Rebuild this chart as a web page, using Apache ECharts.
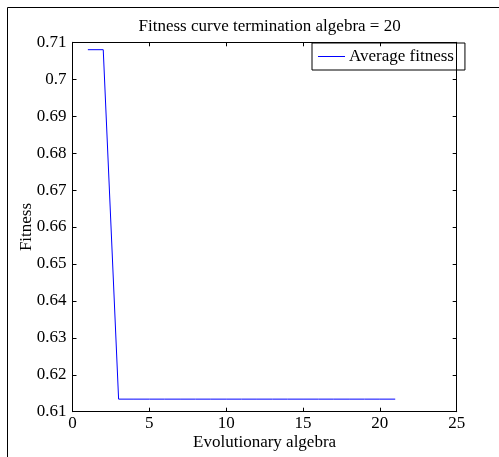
<!DOCTYPE html>
<html>
<head>
<meta charset="utf-8">
<script src="https://cdn.jsdelivr.net/npm/echarts@6/dist/echarts.min.js"></script>
<style>
  html, body { margin: 0; padding: 0; background: #fff; }
  #main { width: 499px; height: 457px; }
</style>
</head>
<body>
<div id="main"></div>
<script>
// values
var generations = [1, 2, 3, 4, 5, 6, 7, 8, 9, 10, 11, 12, 13, 14, 15, 16, 17, 18, 19, 20, 21];
var avgFitness = [0.708, 0.708, 0.6134, 0.6134, 0.6134, 0.6134, 0.6134, 0.6134, 0.6134, 0.6134,
  0.6134, 0.6134, 0.6134, 0.6134, 0.6134, 0.6134, 0.6134, 0.6134, 0.6134, 0.6134, 0.6134];
var xRange = [0, 25, 5];       // min, max, interval
var yRange = [0.61, 0.71, 0.01];

var font = "'Liberation Serif', 'Times New Roman', serif";

var chartDom = document.getElementById("main");
var myChart = echarts.init(chartDom);
var option;

var seriesData = generations.map(function (g, i) {
  return [g, avgFitness[i]];
});

function boxAxis(pos, range) {
  return {
    type: "value",
    position: pos,
    min: range[0],
    max: range[1],
    interval: range[2],
    axisLine: { show: true, onZero: false, lineStyle: { color: "#000", width: 1 } },
    axisTick: { show: true, inside: true, length: 4, lineStyle: { color: "#000" } },
    axisLabel: { show: false },
    splitLine: { show: false }
  };
}

option = {
  backgroundColor: "#fff",
  animation: false,
  title: {
    text: "Fitness curve termination algebra = 20",
    left: 264.6,
    textAlign: "center",
    top: 13,
    textStyle: { fontFamily: font, fontSize: 17, fontWeight: "normal", color: "#000" }
  },
  legend: {
    data: [{ name: "Average fitness", icon: "rect" }],
    left: 312,
    top: 43,
    orient: "vertical",
    borderColor: "#000",
    borderWidth: 1,
    padding: [5, 11, 5, 6],
    itemWidth: 27,
    itemHeight: 1,
    itemStyle: { color: "#0000ff" },
    textStyle: { fontFamily: font, fontSize: 17, color: "#000", padding: [0, 0, 0, -1] }
  },
  grid: {
    left: 72.5,
    right: 42.3,
    top: 42.3,
    bottom: 45.3,
    containLabel: false,
    outerBoundsMode: "none"
  },
  graphic: [
    {
      type: "rect",
      shape: { x: 7.5, y: 7.5, width: 700, height: 700 },
      style: { fill: null, stroke: "#000", lineWidth: 1 },
      silent: true,
      z: -1
    }
  ],
  xAxis: [
    {
      type: "value",
      min: xRange[0],
      max: xRange[1],
      interval: xRange[2],
      name: "Evolutionary algebra",
      nameLocation: "middle",
      nameGap: 22,
      nameMoveOverlap: false,
      nameTextStyle: { fontFamily: font, fontSize: 17, color: "#000" },
      axisLine: { show: true, onZero: false, lineStyle: { color: "#000", width: 1 } },
      axisTick: { show: true, inside: true, length: 4, lineStyle: { color: "#000" } },
      axisLabel: { margin: 3, fontFamily: font, fontSize: 17, color: "#000" },
      splitLine: { show: false }
    },
    boxAxis("top", xRange)
  ],
  yAxis: [
    {
      type: "value",
      min: yRange[0],
      max: yRange[1],
      interval: yRange[2],
      name: "Fitness",
      nameLocation: "middle",
      nameGap: 37,
      nameMoveOverlap: false,
      nameTextStyle: { fontFamily: font, fontSize: 17, color: "#000" },
      axisLine: { show: true, onZero: false, lineStyle: { color: "#000", width: 1 } },
      axisTick: { show: true, inside: true, length: 4, lineStyle: { color: "#000" } },
      axisLabel: {
        margin: 6,
        fontFamily: font,
        fontSize: 17,
        color: "#000",
        formatter: function (value) {
          return String(+value.toFixed(2));
        }
      },
      splitLine: { show: false }
    },
    boxAxis("right", yRange)
  ],
  series: [
    {
      name: "Average fitness",
      type: "line",
      data: seriesData,
      xAxisIndex: 0,
      yAxisIndex: 0,
      symbol: "none",
      lineStyle: { color: "#0000ff", width: 1 },
      itemStyle: { color: "#0000ff" }
    }
  ]
};

option && myChart.setOption(option);
</script>
</body>
</html>
